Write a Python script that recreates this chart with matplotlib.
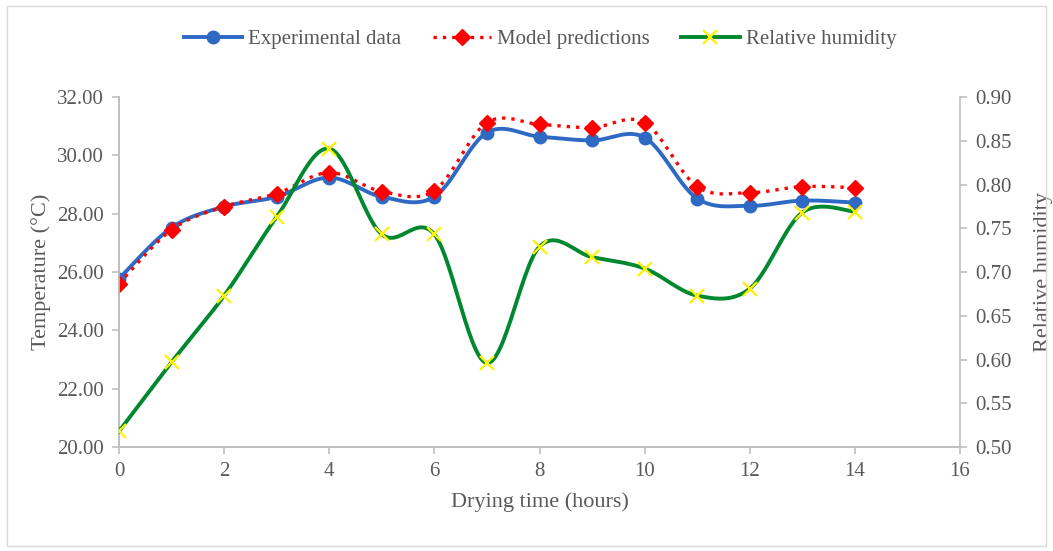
import numpy as np
import matplotlib
matplotlib.use("Agg")
import matplotlib.pyplot as plt
from matplotlib.lines import Line2D
from matplotlib.patches import Rectangle

plt.rcParams['font.family'] = ['Liberation Serif', 'DejaVu Serif']
plt.rcParams['font.size'] = 15

hours = [0, 1, 2, 3, 4, 5, 6, 7, 8, 9, 10, 11, 12, 13, 14]
experimental = [25.77, 27.52, 28.24, 28.58, 29.24, 28.58, 28.58, 30.78, 30.64,
                30.51, 30.61, 28.52, 28.27, 28.45, 28.38]
model = [25.60, 27.45, 28.24, 28.69, 29.41, 28.76, 28.79, 31.12, 31.06,
         30.95, 31.12, 28.93, 28.72, 28.93, 28.89]
humidity = [0.518, 0.597, 0.673, 0.763, 0.841, 0.743, 0.743, 0.596, 0.729,
            0.717, 0.704, 0.673, 0.681, 0.768, 0.769]

TXT = '#595959'
AXC = '#BFBFBF'


def smooth(x, y, n=30):
    # excel style smoothed line: bezier segments, catmull-rom tangents
    x = np.asarray(x, float)
    y = np.asarray(y, float)
    px = np.concatenate([[x[0]], x, [x[-1]]])
    py = np.concatenate([[y[0]], y, [y[-1]]])
    t = np.linspace(0, 1, n)[:, None]
    xs, ys = [], []
    for i in range(1, len(px) - 2):
        p0 = np.array([px[i], py[i]])
        p3 = np.array([px[i + 1], py[i + 1]])
        p1 = p0 + (p3 - np.array([px[i - 1], py[i - 1]])) / 6
        p2 = p3 - (np.array([px[i + 2], py[i + 2]]) - p0) / 6
        seg = ((1 - t) ** 3) * p0 + 3 * ((1 - t) ** 2) * t * p1 + 3 * (1 - t) * t ** 2 * p2 + t ** 3 * p3
        xs.append(seg[:, 0])
        ys.append(seg[:, 1])
    return np.concatenate(xs), np.concatenate(ys)


fig = plt.figure(figsize=(10.53, 5.51), dpi=100)
fig.patches.append(Rectangle((7 / 1053, 5 / 551), 1039 / 1053, 540 / 551,
                             transform=fig.transFigure, fill=False, ec='#D9D9D9', lw=1))
ax = fig.add_axes([119 / 1053, 1 - 447 / 551, (960 - 119) / 1053, (447 - 97) / 551])
ax2 = ax.twinx()

blue = '#2E6AC4'
red = '#FF0000'
green = '#00882E'
yellow = '#FFF200'

sx, sy = smooth(hours, experimental)
ax.plot(sx, sy, color=blue, lw=2.8, solid_capstyle='round', zorder=3)
ax.plot(hours, experimental, 'o', color=blue, ms=9, zorder=4)

sx, sy = smooth(hours, model)
ax.plot(sx, sy, color=red, lw=2.4, ls=(0, (1, 1.8)), zorder=5)
ax.plot(hours, model, 'D', color=red, ms=8, zorder=6)

sx, sy = smooth(hours, humidity)
ax2.plot(sx, sy, color=green, lw=2.8, zorder=3)
ax2.plot(hours, humidity, 'x', color=yellow, ms=9.5, mew=1.6, zorder=4)

ax.set_xlim(0, 16)
ax.set_ylim(20, 32)
ax2.set_ylim(0.5, 0.9)
ax.set_xticks(range(0, 17, 2))
ax.set_yticks(np.arange(20, 32.1, 2))
ax.set_yticklabels(['%.2f' % v for v in np.arange(20, 32.1, 2)])
ax2.set_yticks(np.arange(0.5, 0.901, 0.05))
ax2.set_yticklabels(['%.2f' % v for v in np.arange(0.5, 0.901, 0.05)])

for a in (ax, ax2):
    for s in a.spines.values():
        s.set_color(AXC)
        s.set_linewidth(1.2)
    a.spines['top'].set_visible(False)
    a.tick_params(colors=AXC, labelcolor=TXT, length=5, width=1.2, labelsize=15)
ax.spines['right'].set_visible(False)
ax.tick_params(axis='x', pad=6)
ax.tick_params(axis='y', pad=6)
ax2.tick_params(axis='y', pad=6)

ax.set_xlabel('Drying time (hours)', color=TXT, fontsize=16, labelpad=8)
ax.set_ylabel('Temperature (°C)', color=TXT, fontsize=16, labelpad=4)
ax2.set_ylabel('Relative humidity', color=TXT, fontsize=16, labelpad=16)

handles = [
    Line2D([], [], color=blue, lw=2.8, marker='o', ms=9),
    Line2D([], [], color=red, lw=2.4, ls=(0, (1, 1.8)), marker='D', ms=8),
    Line2D([], [], color=green, lw=2.8, marker='x', ms=9.5, mew=1.6, mec=yellow),
]
fig.legend(handles, ['Experimental data', 'Model predictions', 'Relative humidity'],
           loc='center', bbox_to_anchor=(540 / 1053, 1 - 39 / 551), ncol=3,
           frameon=False, fontsize=15, labelcolor=TXT, handlelength=2.8,
           handletextpad=0.3, columnspacing=1.5)

fig.savefig('out.png', dpi=100)
